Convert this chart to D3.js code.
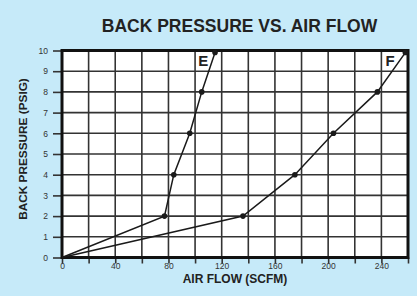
<!DOCTYPE html>
<html>
<head>
<meta charset="utf-8">
<script src="https://cdn.jsdelivr.net/npm/d3@7"></script>
<style>
  body { margin: 0; background: #c6eaf9; }
  svg { display: block; font-family: "Liberation Sans", Arial, sans-serif; }
</style>
</head>
<body>
<div id="chart"></div>
<script>
// data
var flowE = [0, 77, 84, 96, 105, 115];
var pressE = [0, 2, 4, 6, 8, 9.9];
var flowF = [0, 136, 175, 204, 237, 258];
var pressF = [0, 2, 4, 6, 8, 9.9];
var xTicks = [0, 40, 80, 120, 160, 200, 240];
var yTicks = [0, 1, 2, 3, 4, 5, 6, 7, 8, 9, 10];

var width = 417, height = 296;
var margin = {top: 50, right: 8, bottom: 38, left: 62};

var svg = d3.select("#chart").append("svg")
	.attr("width", width)
	.attr("height", height);

svg.append("rect")
	.attr("width", width).attr("height", height)
	.attr("fill", "#c6eaf9");

var x = d3.scaleLinear().domain([0, 260]).range([margin.left, width - margin.right - 1]);
var y = d3.scaleLinear().domain([0, 10]).range([height - margin.bottom - 0.5, margin.top + 0.5]);

// plot area
svg.append("rect")
	.attr("x", x(0)).attr("y", y(10))
	.attr("width", x(260) - x(0)).attr("height", y(0) - y(10))
	.attr("fill", "#fff");

// grid
var grid = svg.append("g").attr("stroke", "#333").attr("stroke-width", 1.6);
grid.selectAll("line.v").data(d3.range(20, 260, 20)).enter().append("line")
	.attr("x1", function(d) { return x(d); }).attr("x2", function(d) { return x(d); })
	.attr("y1", y(0)).attr("y2", y(10));
grid.selectAll("line.h").data(d3.range(1, 10)).enter().append("line")
	.attr("x1", x(0)).attr("x2", x(260))
	.attr("y1", function(d) { return y(d); }).attr("y2", function(d) { return y(d); });

// axes
var xAxis = svg.append("g")
	.attr("transform", "translate(0," + y(0) + ")")
	.call(d3.axisBottom(x).tickValues(d3.range(0, 261, 20)).tickSize(6).tickFormat(function(d) {
		return xTicks.indexOf(d) >= 0 ? d : "";
	}));
var yAxis = svg.append("g")
	.attr("transform", "translate(" + x(0) + ",0)")
	.call(d3.axisLeft(y).tickValues(yTicks).tickSize(9).tickFormat(d3.format("d")));

[xAxis, yAxis].forEach(function(a) {
	a.select(".domain").remove();
	a.selectAll(".tick line").attr("stroke", "#333").attr("stroke-width", 1.6);
	a.selectAll("text").attr("font-size", "8.5px").attr("fill", "#333")
		.attr("font-family", "'Liberation Sans', Arial, sans-serif");
});
yAxis.selectAll("text").attr("x", -14);
xAxis.selectAll("text").attr("y", 5);

// border
svg.append("rect")
	.attr("x", x(0)).attr("y", y(10))
	.attr("width", x(260) - x(0)).attr("height", y(0) - y(10))
	.attr("fill", "none").attr("stroke", "#111").attr("stroke-width", 3);

// curves
var line = d3.line()
	.x(function(d) { return x(d[0]); })
	.y(function(d) { return y(d[1]); });

var series = [
	{name: "E", pts: d3.zip(flowE, pressE)},
	{name: "F", pts: d3.zip(flowF, pressF)}
];

series.forEach(function(s) {
	svg.append("path")
		.datum(s.pts)
		.attr("d", line)
		.attr("fill", "none")
		.attr("stroke", "#1a1a1a")
		.attr("stroke-width", 1.5);
	svg.append("g").selectAll("circle")
		.data(s.pts.slice(1))
		.enter().append("circle")
		.attr("cx", function(d) { return x(d[0]); })
		.attr("cy", function(d) { return y(d[1]); })
		.attr("r", 2.8)
		.attr("fill", "#1a1a1a");
});

// curve labels
svg.append("text").attr("x", x(102.3)).attr("y", 66)
	.attr("font-size", "15px").attr("font-weight", "bold").attr("fill", "#222")
	.text("E");
svg.append("text").attr("x", x(243)).attr("y", 66)
	.attr("font-size", "15px").attr("font-weight", "bold").attr("fill", "#222")
	.text("F");

// titles
svg.append("text")
	.attr("x", 239.5).attr("y", 32)
	.attr("text-anchor", "middle")
	.attr("font-size", "17.5px").attr("font-weight", "bold").attr("fill", "#222")
	.text("BACK PRESSURE VS. AIR FLOW");

svg.append("text")
	.attr("x", (x(0) + x(260)) / 2).attr("y", 283)
	.attr("text-anchor", "middle")
	.attr("font-size", "12px").attr("font-weight", "bold").attr("fill", "#222")
	.text("AIR FLOW (SCFM)");

svg.append("text")
	.attr("transform", "translate(26.5,149) rotate(-90)")
	.attr("text-anchor", "middle")
	.attr("font-size", "11.8px").attr("font-weight", "bold").attr("fill", "#222")
	.text("BACK PRESSURE (PSIG)");
</script>
</body>
</html>
